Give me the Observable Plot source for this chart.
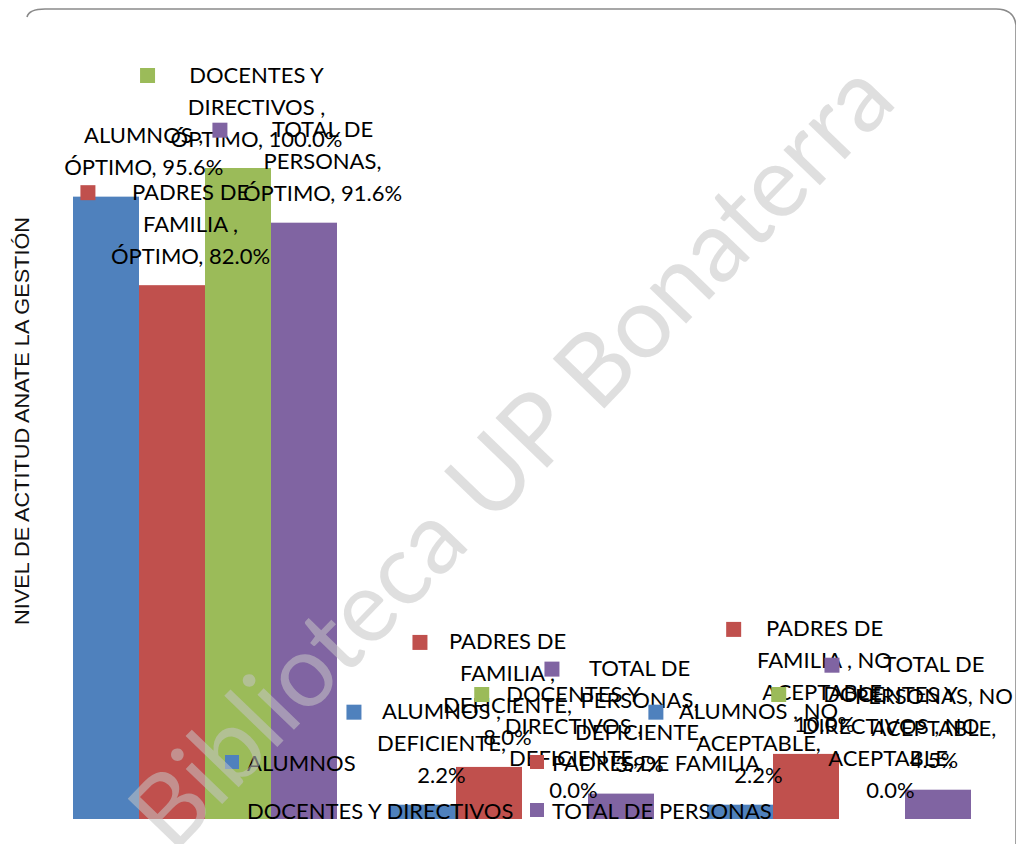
<!DOCTYPE html>
<html>
<head>
<meta charset="utf-8">
<script src="https://cdn.jsdelivr.net/npm/d3@7"></script>
<script src="https://cdn.jsdelivr.net/npm/@observablehq/plot@0.6"></script>
<style>
  html, body { margin: 0; padding: 0; background: #fff; }
  body { width: 1016px; height: 844px; overflow: hidden; position: relative; font-family: Lato, sans-serif; }
  #chart { position: absolute; left: 0; top: 0; }
  #overlay { position: absolute; left: 0; top: 0; pointer-events: none; overflow: visible; }
</style>
</head>
<body>
<div id="chart"></div>
<svg id="overlay" width="1016" height="844"></svg>
<script>
// ---------- data ----------
const categories = ["ÓPTIMO", "DEFICIENTE", "NO ACEPTABLE"];
const series = ["ALUMNOS ", "PADRES DE FAMILIA ", "DOCENTES Y DIRECTIVOS ", "TOTAL DE PERSONAS"];
const alumnos   = [95.6, 2.2, 2.2];
const padres    = [82.0, 8.0, 10.0];
const docentes  = [100.0, 0.0, 0.0];
const total     = [91.6, 3.9, 4.5];
const seriesLines = [["ALUMNOS ,"], ["PADRES DE", "FAMILIA ,"], ["DOCENTES Y", "DIRECTIVOS ,"], ["TOTAL DE", "PERSONAS,"]];
const legendLabels = ["ALUMNOS", "PADRES DE FAMILIA", "DOCENTES Y DIRECTIVOS", "TOTAL DE PERSONAS"];
const yTitle = "NIVEL DE ACTITUD ANATE LA GESTIÓN";
const watermarkText = "Biblioteca UP Bonaterra";

// ---------- styles ----------
const colors = ["#4F81BD", "#C0504D", "#9BBB59", "#8064A2"];
const W = 1016, H = 844;
const M = {top: 168, right: 19, bottom: 25, left: 46};
const FONT = "Lato";
const FS = 22;
const LINE = 32;

const valuesBySeries = [alumnos, padres, docentes, total];
const data = [];
categories.forEach((c, ci) => series.forEach((s, si) =>
  data.push({category: c, series: s, value: valuesBySeries[si][ci], si, ci})));

function labelLines(d) {
  const lines = seriesLines[d.si].slice();
  const pct = d.value.toFixed(1) + "%";
  const words = d.category.split(" ");
  const last = words.pop();
  if (words.length) lines[lines.length - 1] += " " + words.join(" ");
  if (last.length <= 6) lines.push(last + ", " + pct);
  else { lines.push(last + ","); lines.push(pct); }
  return lines;
}

const ctx = document.createElement("canvas").getContext("2d");
ctx.font = `${FS}px ${FONT}`;
const measure = (t) => ctx.measureText(t).width;

const base = {
  width: W, height: H,
  marginTop: M.top, marginRight: M.right, marginBottom: M.bottom, marginLeft: M.left,
  style: {background: "transparent", overflow: "visible"},
  fx: {domain: categories, paddingInner: 0.158, paddingOuter: 0.079, axis: null, label: null},
  x: {domain: series, padding: 0, axis: null, label: null},
  y: {domain: [0, 100], axis: null, label: null},
  color: {domain: series, range: colors}
};
const bars = Plot.barY(data, {fx: "category", x: "series", y: "value", fill: "series"});

// first pass: get facet scale geometry
const probe = Plot.plot({...base, marks: [bars]});
const fxS = probe.scale("fx");
const fxApply = fxS.apply ? (v) => fxS.apply(v) : (v) => {
  const step = (W - M.left - M.right) / (categories.length - 0.158 + 2 * 0.079);
  return M.left + 0.079 * step + categories.indexOf(v) * step;
};
const bw = fxS.bandwidth ?? ((W - M.left - M.right) / 3.0 * 0.842);

const labelMarks = [];
const keyMarks = [];
data.forEach((d) => {
  const lines = labelLines(d);
  const half = Math.max(...lines.map(measure)) / 2;
  const barCx = fxApply(d.category) + (d.si + 0.5) * bw / 4;
  let cx = barCx + 18;
  cx = Math.min(cx, 1013 - half);
  cx = Math.max(cx, 62 + half);
  const dx = cx - barCx;
  labelMarks.push(Plot.text([d], {
    fx: "category", x: "series", y: "value",
    text: () => lines.join("\n"),
    dx, dy: -22, lineAnchor: "bottom", lineHeight: LINE / FS,
    fontSize: FS, fontFamily: FONT, fill: "#000", textAnchor: "middle"
  }));
  const keyX = cx - half - 23;
  if (keyX >= M.left) {
    keyMarks.push(Plot.dot([d], {
      fx: "category", x: "series", y: "value",
      dx: keyX - barCx, dy: -29 - (lines.length - 1) * LINE,
      symbol: "square", r: Math.sqrt(225 / Math.PI), fill: colors[d.si], stroke: "none"
    }));
  }
});

const chart = Plot.plot({...base, marks: [bars, ...labelMarks, ...keyMarks]});
document.getElementById("chart").appendChild(chart);

// ---------- overlay: frame, axis title, legend, watermark ----------
const ov = d3.select("#overlay");
ov.append("path")
  .attr("d", "M27,17 Q29,9 45,9 L996,9 Q1014,9 1016,25 L1016,844")
  .attr("fill", "none").attr("stroke", "#8a8a8a").attr("stroke-width", 1.6);

ov.append("text")
  .attr("transform", "translate(22,421) rotate(-90)")
  .attr("text-anchor", "middle").attr("dominant-baseline", "central")
  .attr("font-family", "Liberation Sans, Arial, sans-serif").attr("font-size", 20)
  .attr("textLength", 408).attr("lengthAdjust", "spacingAndGlyphs")
  .attr("fill", "#111").text(yTitle);

const legendPos = [[232, 762], [537, 762], [232, 810], [537, 810]];
legendLabels.forEach((t, i) => {
  const [x, y] = legendPos[i];
  ov.append("rect").attr("x", x - 7).attr("y", y - 7).attr("width", 14).attr("height", 14).attr("fill", colors[i]);
  ov.append("text").attr("x", x + 15).attr("y", y).attr("dominant-baseline", "central")
    .attr("font-family", FONT).attr("font-size", FS).attr("fill", "#000").text(t);
});

ov.append("text")
  .attr("transform", "translate(508,452) rotate(-46)")
  .attr("text-anchor", "middle").attr("dominant-baseline", "central")
  .attr("font-family", FONT).attr("font-size", 100)
  .attr("textLength", 1045).attr("lengthAdjust", "spacingAndGlyphs")
  .attr("fill", "#c4c4c4").attr("fill-opacity", 0.55).text(watermarkText);
</script>
</body>
</html>
